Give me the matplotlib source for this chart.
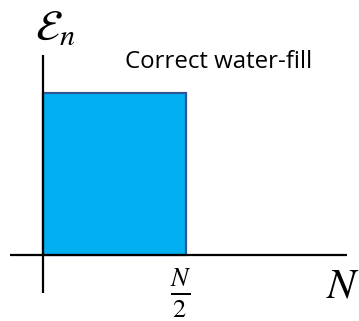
import matplotlib
matplotlib.use("Agg")
import matplotlib.pyplot as plt

# data (x in units of N)
fill_start = [0.0]
fill_width = [0.5]
water_level = [1.0]
title_text = "Correct water-fill"
x_tick_label = r"$\frac{N}{2}$"
x_label = r"$N$"
y_label = r"$\mathcal{E}_n$"

plt.rcParams['mathtext.fontset'] = 'stix'
fig = plt.figure(figsize=(3.59, 3.21), dpi=100)
ax = fig.add_axes([0, 0, 1, 1])
ax.set_xlim(-0.1503, 1.105)
ax.set_ylim(-0.407, 1.574)
ax.axis('off')

ax.bar(fill_start, water_level, width=fill_width, align='edge',
       color='#00B0F0', edgecolor='#2F5597', linewidth=1.6, zorder=2)
# axes lines
ax.plot([-0.115, 1.063], [0, 0], color='black', lw=1.6, zorder=3, solid_capstyle='butt')
ax.plot([0, 0], [-0.235, 1.235], color='black', lw=1.6, zorder=3, solid_capstyle='butt')

ax.text(0.287, 1.19, title_text, fontsize=17.3, family='Open Sans', va='center', ha='left')
ax.text(0.045, 1.40, y_label, fontsize=31, va='center', ha='center')
ax.text(1.05, -0.19, x_label, fontsize=31, va='center', ha='center')
ax.text(fill_start[0] + fill_width[0] - 0.017, -0.235, x_tick_label, fontsize=27, va='center', ha='center')

fig.savefig('out.png', dpi=100)
